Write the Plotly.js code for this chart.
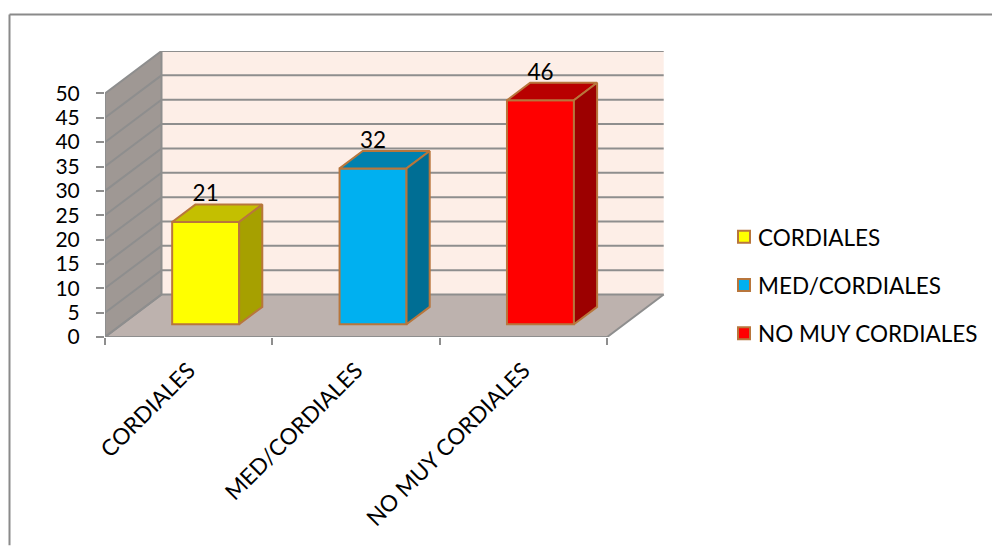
<!DOCTYPE html>
<html>
<head>
<meta charset="utf-8">
<script src="https://cdn.plot.ly/plotly-3.0.1.min.js"></script>
<style>html,body{margin:0;padding:0;background:#fff;overflow:hidden}#chart{overflow:hidden}</style>
</head>
<body>
<div id="chart" style="width:992px;height:546px"></div>
<script>
// Survey results shown as an oblique 3D column chart.
const categories = ['CORDIALES', 'MED/CORDIALES', 'NO MUY CORDIALES'];
const values = [21, 32, 46];
const valueTicks = [0, 5, 10, 15, 20, 25, 30, 35, 40, 45, 50];
const frontColors = ['#FFFF00', '#00B0F0', '#FF0000'];
const topColors = ['#C4BF00', '#0081AF', '#B80000'];
const sideColors = ['#A6A000', '#006E94', '#9C0000'];

const EDGE = '#B8763C', GRID = '#8E8E8E';

// Plot geometry, in axis units: one category per x unit, values on y.
// The canvas runs a little past the window so the legend keeps its full width.
const canvasW = 1010, canvasH = 546;
const marginL = 105, marginT = 51, marginB = 208.5, marginR = canvasW - 665;
const plotW = canvasW - marginL - marginR, plotH = canvasH - marginT - marginB;
const catPx = 167.4, valPx = 4.88;
const depthX = 56.5 / catPx, depthY = 42.5 / valPx;   // full floor depth
const barFront = 0.30, barBack = 0.71;                // bar extent along the depth
const barWidth = 0.4;

// Oblique projection of a point at fraction d of the floor depth.
const px = (x, d) => x + d * depthX;
const py = (y, d) => y + d * depthY;

function polyPath(points) {
  return 'M' + points.map(p => p[0] + ',' + p[1]).join('L') + 'Z';
}
function panel(points, fill) {
  return {type: 'path', xref: 'x', yref: 'y', layer: 'below', path: polyPath(points),
          fillcolor: fill, line: {width: 0}};
}
function edge(points) {
  return {type: 'path', xref: 'x', yref: 'y', layer: 'below',
          path: 'M' + points.map(p => p[0] + ',' + p[1]).join('L'),
          line: {color: GRID, width: 2}};
}

const nCat = categories.length, yMax = 50;
const shapes = [
  // back wall, floor, left wall
  panel([[px(0,1),py(0,1)],[px(nCat,1),py(0,1)],[px(nCat,1),py(yMax,1)],[px(0,1),py(yMax,1)]], '#FDEEE7'),
  panel([[0,0],[nCat,0],[px(nCat,1),py(0,1)],[px(0,1),py(0,1)]], '#BDB2AE'),
  panel([[0,0],[px(0,1),py(0,1)],[px(0,1),py(yMax,1)],[0,yMax]], '#9F9894')
];
// Gridlines wrap from the left wall onto the back wall.
valueTicks.forEach(v => shapes.push(edge([[0,v],[px(0,1),py(v,1)],[px(nCat,1),py(v,1)]])));
shapes.push(edge([[0,yMax],[0,0],[nCat,0],[px(nCat,1),py(0,1)]]));
shapes.push(edge([[0,0],[px(0,1),py(0,1)],[px(0,1),py(yMax,1)]]));

// Outer chart border: top and left sides only reach the window edge.
const paperX = p => (p - marginL) / plotW;
const paperY = p => (canvasH - marginB - p) / plotH;
const frameLine = (x0, y0, x1, y1) => ({type: 'line', xref: 'paper', yref: 'paper', layer: 'below',
  x0: paperX(x0), y0: paperY(y0), x1: paperX(x1), y1: paperY(y1), line: {color: '#8A8A8A', width: 2}});
shapes.push(frameLine(9.5, 14.5, canvasW, 14.5), frameLine(9.5, 14.5, 9.5, canvasH));

const base = barFront * depthY;
const centers = categories.map((c, i) => i + 0.5);
const font = {family: 'Lato, Carlito, Calibri, sans-serif', color: '#000', size: 22.5};
const valueTickFont = {family: font.family, color: '#000', size: 21};

const traces = [];
// Front faces are real bars, one trace each so they get a legend entry.
categories.forEach((c, i) => traces.push({
  type: 'bar', name: c, legendgroup: c,
  x: [px(centers[i], barFront)], y: [values[i]], base: [base], width: [barWidth],
  marker: {color: frontColors[i], line: {color: EDGE, width: 2}},
  hoverinfo: 'skip'
}));
// Top and side faces are projected from the same values.
categories.forEach((c, i) => {
  const l = centers[i] - barWidth / 2, r = centers[i] + barWidth / 2, v = values[i];
  const a = barFront, b = barBack;
  const top = [[l,a],[r,a],[r,b],[l,b],[l,a]];
  const side = [[a,0],[b,0],[b,v],[a,v],[a,0]];
  traces.push({type: 'scatter', mode: 'lines', fill: 'toself', fillcolor: topColors[i],
    line: {color: EDGE, width: 2}, showlegend: false, hoverinfo: 'skip',
    x: top.map(p => px(p[0], p[1])), y: top.map(p => py(v, p[1]))});
  traces.push({type: 'scatter', mode: 'lines', fill: 'toself', fillcolor: sideColors[i],
    line: {color: EDGE, width: 2}, showlegend: false, hoverinfo: 'skip',
    x: side.map(p => px(r, p[0])), y: side.map(p => py(p[1], p[0]))});
});
// Value labels sit just behind the top face of each column.
traces.push({type: 'scatter', mode: 'text', showlegend: false, hoverinfo: 'skip',
  x: centers.map(c => px(c, barFront)), y: values.map(v => py(v, barBack) - 0.5),
  text: values.map(String), textposition: 'top center', textfont: font, cliponaxis: false});

const layout = {
  width: canvasW, height: canvasH, autosize: false,
  margin: {l: marginL, r: marginR, t: marginT, b: marginB, pad: 0},
  paper_bgcolor: '#fff', plot_bgcolor: 'rgba(0,0,0,0)',
  font: font, barmode: 'overlay',
  xaxis: {range: [0, plotW / catPx], zeroline: false, showgrid: false, showline: false,
    tickmode: 'array', tickvals: centers, ticktext: categories, tickangle: -45, ticks: '',
    ticklabelstandoff: 15, tickfont: font,
    minor: {tickmode: 'array', tickvals: [0, 1, 2, 3], ticks: 'outside', ticklen: 7,
            tickwidth: 2, tickcolor: GRID, showgrid: false}},
  yaxis: {range: [0, plotH / valPx], zeroline: false, showgrid: false, showline: false,
    tickmode: 'array', tickvals: valueTicks, ticks: 'outside', ticklen: 8, tickwidth: 2,
    tickcolor: GRID, ticklabelstandoff: 12, tickfont: valueTickFont},
  legend: {x: paperX(718), y: paperY(216), xanchor: 'left', yanchor: 'top',
    traceorder: 'grouped', tracegroupgap: 16, font: font, bgcolor: 'rgba(0,0,0,0)'},
  shapes: shapes, showlegend: true
};
Plotly.newPlot('chart', traces, layout, {displayModeBar: false, staticPlot: true}).then(gd => {
  // Tighten the gap between each legend swatch and its label.
  gd.querySelectorAll('.legendsymbols').forEach(g => g.setAttribute('transform', 'translate(6,0)'));
});
</script>
</body>
</html>
